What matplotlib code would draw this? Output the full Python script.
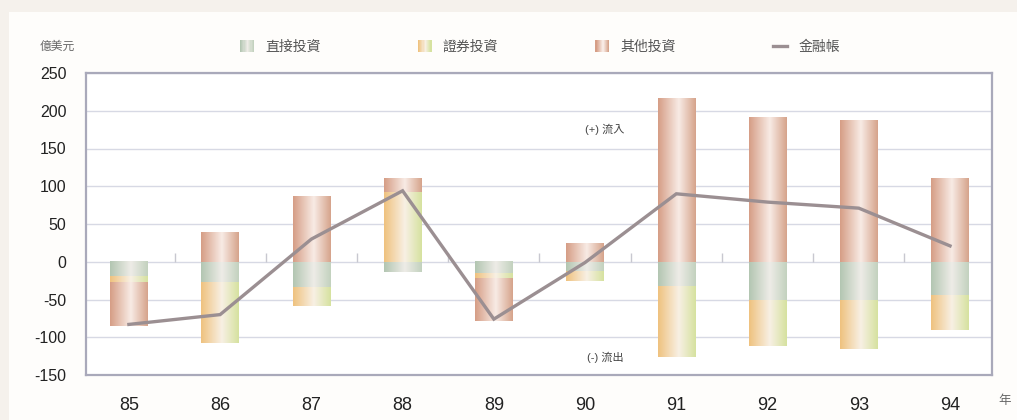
import numpy as np
import matplotlib
matplotlib.use("Agg")
import matplotlib.pyplot as plt
from matplotlib.patches import Rectangle
from matplotlib.lines import Line2D
from matplotlib.legend_handler import HandlerBase
from matplotlib.colors import to_rgb

plt.rcParams['font.family'] = ['Liberation Sans', 'Noto Sans CJK TC', 'DejaVu Sans']
plt.rcParams['axes.unicode_minus'] = False

# 資料 (億美元)
years = ['85', '86', '87', '88', '89', '90', '91', '92', '93', '94']
direct = [-19, -28, -35, -14, -16, -12, -33, -51, -51, -44]       # 直接投資
portfolio = [-9, -80, -24, 92, -7, -13, -93, -60, -64, -46]       # 證券投資
other = [-57, 39, 87, 18, -56, 24, 216, 192, 187, 111]            # 其他投資
financial = [-83, -70, 30, 94, -76, -1, 90, 79, 71, 21]           # 金融帳

series = [('直接投資', direct, ('#b3c6b2', '#eeece7', '#c3d2bf')),
          ('證券投資', portfolio, ('#efc27f', '#f8f0e4', '#d6e2a0')),
          ('其他投資', other, ('#d69e86', '#f8ebe5', '#d6a48c'))]


def gradient(cols, n=64):
    l, m, r = [np.array(to_rgb(c)) for c in cols]
    t = np.linspace(0, 1, n)
    out = np.empty((1, n, 3))
    for i, v in enumerate(t):
        if v < 0.55:
            out[0, i] = l + (m - l) * (v / 0.55)
        else:
            out[0, i] = m + (r - m) * ((v - 0.55) / 0.45)
    return out


class GradHandler(HandlerBase):
    def __init__(self, cols):
        super().__init__()
        self.cols = cols

    def create_artists(self, legend, orig_handle, xdescent, ydescent, width, height, fontsize, trans):
        g = gradient(self.cols, 12)[0]
        arts = []
        w = width / len(g)
        for i, c in enumerate(g):
            arts.append(Rectangle((-xdescent + i * w, -ydescent), w * 1.05, height,
                                  facecolor=c, edgecolor='none', transform=trans))
        return arts


fig = plt.figure(figsize=(10.17, 4.2), dpi=100)
fig.patch.set_facecolor('#f5f1ec')
fig.add_artist(Rectangle((9 / 1017, 0), 1, 1 - 12 / 420, transform=fig.transFigure,
                         facecolor='#fefdfb', edgecolor='none', zorder=0))

ax = fig.add_axes([86 / 1017, 45 / 420, (992 - 86) / 1017, (375 - 73) / 420])
ax.set_facecolor('white')

x = np.arange(len(years))
width = 0.41
pos_bottom = np.zeros(len(years))
neg_bottom = np.zeros(len(years))
for name, vals, cols in series:
    vals = np.array(vals, dtype=float)
    bottoms = np.where(vals >= 0, pos_bottom, neg_bottom)
    bars = ax.bar(x, vals, width, bottom=bottoms, color='none', edgecolor='none', zorder=2)
    img = gradient(cols)
    for rect in bars:
        x0, y0 = rect.get_x(), rect.get_y()
        w, h = rect.get_width(), rect.get_height()
        if h == 0:
            continue
        ax.imshow(img, extent=[x0, x0 + w, min(y0, y0 + h), max(y0, y0 + h)],
                  aspect='auto', zorder=2, interpolation='bilinear')
    pos_bottom += np.where(vals >= 0, vals, 0)
    neg_bottom += np.where(vals < 0, vals, 0)

ax.plot(x, financial, color='#9b8f92', lw=2.4, zorder=4, solid_joinstyle='miter')

ax.set_xlim(-0.47, 9.46)
ax.set_ylim(-150, 250)
ax.set_yticks(np.arange(-150, 251, 50))
ax.set_xticks(x)
ax.set_xticklabels(years)
ax.yaxis.grid(True, color='#d7d9e4', lw=1)
ax.set_axisbelow(True)
ax.tick_params(axis='both', length=0, colors='#222222')
ax.tick_params(axis='x', labelsize=13, pad=16)
ax.tick_params(axis='y', labelsize=11.5, pad=14)
for s in ax.spines.values():
    s.set_color('#a9a9ba')
    s.set_linewidth(1.6)

# category tick marks on the zero line
ax.vlines(x[:-1] + 0.5, 0, 12, color='#c8c8d0', lw=1, zorder=1)

ax.text(5.22, 176, '(+) 流入', fontsize=8, color='#444444', ha='center', va='center')
ax.text(5.22, -127, '(-) 流出', fontsize=8, color='#444444', ha='center', va='center')

fig.text(57 / 1017, 1 - 47 / 420, '億美元', fontsize=8.5, color='#666666',
         ha='center', va='center')
fig.text(1005 / 1017, 1 - 401 / 420, '年', fontsize=9, color='#666666',
         ha='center', va='center')

handles = [Rectangle((0, 0), 1, 1) for _ in series] + \
    [Line2D([0], [0], color='#9b8f92', lw=2.4)]
labels = [s[0] for s in series] + ['金融帳']
hmap = {handles[i]: GradHandler(series[i][2]) for i in range(3)}
leg = fig.legend(handles, labels, handler_map=hmap, loc='center left',
                 bbox_to_anchor=(240 / 1017, 1 - 47 / 420), ncol=4, frameon=False,
                 fontsize=10, handlelength=1.0, handleheight=1.0, handletextpad=0.8,
                 columnspacing=7.0, borderpad=0, borderaxespad=0)
for t in leg.get_texts():
    t.set_color('#555555')

fig.savefig('out.png', dpi=100, facecolor=fig.get_facecolor())
